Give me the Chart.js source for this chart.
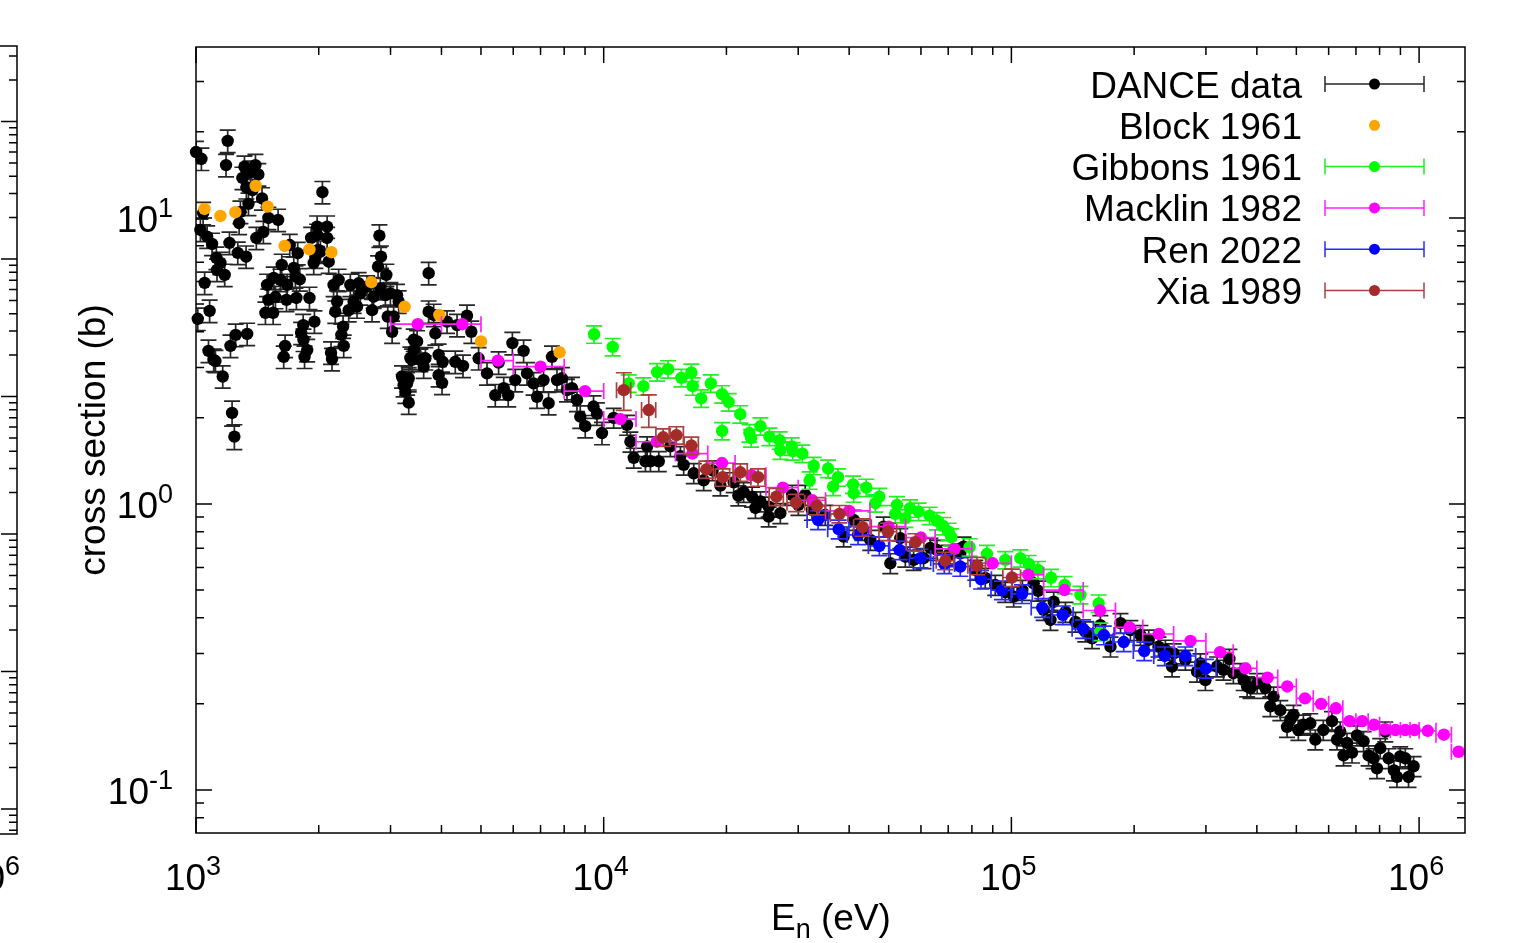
<!DOCTYPE html>
<html><head><meta charset="utf-8">
<script src="https://cdn.jsdelivr.net/npm/chart.js@4.4.1/dist/chart.umd.min.js"></script>
<style>html,body{margin:0;padding:0;background:#fff}canvas{display:block}</style>
</head><body>
<canvas id="c" width="1515" height="943"></canvas>
<script>
// ---------------- DATA ----------------
// DANCE data: [E (eV), cross section (b), relative error %]
const danceData = [
[1000,17.0,9],[1010,4.44,9],[1025,9.08,9],[1031,16.1,9],[1041,10.4,9],[1050,5.93,9],[1065,8.60,9],[1073,3.43,9],[1080,4.73,9],[1095,8.11,9],[1105,3.19,9],[1116,3.16,9],[1122,7.25,9],[1126,6.58,9],[1148,6.96,9],[1163,2.79,9],[1176,6.32,9],[1185,15.3,9],[1196,18.6,9],[1208,8.18,9],[1215,3.57,9],[1226,2.08,10],[1242,1.72,10],[1251,3.90,9],[1266,7.55,9],[1276,9.60,9],[1285,10.5,9],[1300,13.8,9],[1315,15.1,9],[1327,7.32,9],[1329,12.8,9],[1335,3.93,9],[1345,11.2,9],[1360,14.5,9],[1375,12.5,9],[1399,15.3,9],[1406,8.51,9],[1422,14.2,9],[1452,11.7,9],[1463,8.93,9],[1480,4.66,9],[1494,5.83,9],[1505,10.0,9],[1505,5.17,9],[1546,4.66,9],[1551,6.17,9],[1566,5.29,9],[1590,9.84,9],[1611,6.07,9],[1623,6.85,9],[1641,3.27,9],[1654,3.57,9],[1667,5.17,9],[1673,5.83,9],[1698,8.04,9],[1737,6.69,9],[1753,6.24,9],[1763,5.25,9],[1776,7.53,9],[1797,6.10,9],
[1811,3.96,9],[1832,4.22,9],[1835,3.75,9],[1846,3.27,9],[1874,3.45,9],[1898,5.25,9],[1916,8.51,9],[1944,6.96,9],[1952,4.34,9],[1962,7.32,9],[1982,9.32,9],[1982,8.72,9],[1993,7.73,9],[2019,7.62,9],[2042,12.3,9],[2097,9.32,9],[2097,8.51,9],[2116,7.03,9],[2144,3.38,9],[2156,3.21,9],[2175,5.83,9],[2196,4.70,9],[2218,5.10,9],[2238,6.07,9],[2273,3.90,9],[2295,4.17,9],[2303,3.57,9],[2369,4.76,9],[2391,5.83,9],[2436,5.10,9],[2483,4.90,9],[2506,5.91,9],[2530,5.45,9],[2628,5.75,9],[2703,4.76,9],[2727,5.31,9],[2796,6.76,9],[2817,8.67,9],[2832,5.68,9],[2843,7.32,9],
[2914,5.37,9],[2930,6.32,9],[2953,4.52,9],[2998,5.45,9],[3027,4.00,9],[3054,4.52,9],[3112,5.37,9],[3141,5.10,9],[3201,2.79,9],[3230,2.60,9],[3262,2.47,9],[3294,2.64,9],[3325,2.75,9],[3325,2.26,9],[3356,3.24,9],[3388,3.19,9],[3420,3.75,9],[3420,3.45,9],[3486,3.70,9],[3551,3.19,9],[3618,3.02,9],[3653,3.23,9],[3721,6.41,9],[3721,4.70,9],[3828,4.58,9],[3865,3.95,9],[3937,3.32,9],[3937,2.82,9],[4013,2.65,9],[4027,3.14,9],[4128,4.34,9],[4325,3.14,9],[4368,4.22,9],[4518,3.04,9],[4621,4.55,9],[4735,4.00,9],[4934,3.23,9],
[5174,2.86,9],[5421,2.40,9],[5524,3.12,9],[5686,2.54,9],[5832,2.40,9],[5970,3.65,9],[6069,2.71,9],[6361,3.43,9],[6485,2.86,9],[6729,2.64,9],[6862,2.37,9],[7120,2.71,9],[7325,2.25,9],[7467,3.27,9],[7681,2.71,9],[7900,2.75,9],[8127,2.50,9],[8360,2.54,9],[8599,2.31,9],[8760,2.02,9],[9010,1.87,9],[9441,2.19,9],[9626,2.07,9],[9905,1.77,9],
[10580,2.00,8],[11410,1.89,8],[11630,1.65,8],[11850,1.45,8],[12660,1.41,8],[12780,1.59,8],[13020,1.41,8],[13650,1.41,8],[14570,1.59,8],[15420,1.47,8],[15710,1.37,8],[16630,1.28,8],[17590,1.21,8],[18490,1.31,8],[19330,1.16,8],[20840,1.19,8],[21390,1.07,8],[22040,1.10,8],[23120,1.06,8],[23560,0.968,8],[24240,1.02,8],[25390,0.978,8],[25390,0.903,8],[27120,0.928,8],[28980,1.075,8],[30030,0.992,8],[31200,1.075,8],[32420,0.953,8],[34950,0.915,8],[38770,0.769,8],[41030,0.879,8],[43090,0.811,8],[45070,0.748,8],[48590,0.833,8],[50470,0.620,8],[53400,0.759,8],[54930,0.654,8],[57560,0.637,8],[60900,0.646,8],[63260,0.702,8],[65700,0.690,8],[70140,0.663,8],[74930,0.672,8],[76330,0.709,8],[81550,0.588,8],[86270,0.551,8],[91290,0.521,8],[96600,0.492,8],
[101300,0.474,8],[106400,0.500,8],[113400,0.528,8],[116300,0.497,8],[120000,0.426,8],[124700,0.393,8],[127000,0.455,8],[135700,0.419,8],[143600,0.387,8],[151800,0.358,8],[157700,0.339,8],[165300,0.377,8],[175000,0.317,8],[185200,0.383,8],[195800,0.362,8],[207200,0.348,8],[217200,0.335,8],[229500,0.317,8],[238600,0.309,8],[247800,0.270,8],[250100,0.300,8],[267100,0.285,8],[285300,0.259,8],[290800,0.277,8],[299100,0.242,8],[319500,0.270,8],[331300,0.263,8],[342600,0.287,8],[350300,0.256,8],[364400,0.256,8],[371400,0.242,8],[378600,0.230,8],[386000,0.227,8],[400700,0.236,8],[419700,0.227,8],[431700,0.196,8],[439600,0.212,8],[456700,0.190,8],[474300,0.166,8],[483100,0.176,8],[491900,0.183,8],[505700,0.162,8],[520200,0.169,8],[540900,0.171,8],[556500,0.150,8],[582200,0.162,8],[611400,0.174,8],[629000,0.150,8],[640600,0.160,8],[652600,0.132,8],[665400,0.146,8],[684600,0.135,8],[704100,0.155,8],[730900,0.148,8],[751900,0.132,8],[773300,0.129,8],[788300,0.119,8],[803000,0.140,8],[826100,0.160,8],[841900,0.129,8],[867600,0.117,8],[882500,0.111,8],[898800,0.131,8],[924800,0.129,8],[942100,0.111,8],[969300,0.121,8]
];
// Block 1961: [E, xs]
const blockData = [[1049,10.75],[1148,10.16],[1249,10.47],[1401,12.94],[1499,10.95],[1650,7.98],[1898,7.77],[2148,7.59],[2692,5.96],[3248,4.89],[3952,4.58],[5001,3.70],[7795,3.39]];
// Gibbons 1961: [E, xs, rel. error %]
const gibbonsData = [[9470,3.92,7],[10520,3.54,7],[11520,2.64,7],[12510,2.58,7],[13520,2.89,7],[14390,2.96,7],[15510,2.76,7],[16410,2.88,7],[16530,2.58,7],[17340,2.34,7],[18310,2.64,7],[19520,2.42,7],[19520,1.80,7],[20260,2.27,7],[21630,2.06,7],[22770,1.77,7],[22990,1.70,7],[24240,1.87,7],[25490,1.72,7],[27010,1.67,7],[27120,1.54,7],[28910,1.59,7],[29080,1.53,7],[30710,1.50,7],[32000,1.21,7],[32740,1.36,7],[35510,1.33,7],[36530,1.15,7],[37570,1.24,7],[40890,1.17,7],[41030,1.09,7],[44060,1.14,7],[46370,1.006,7],[47430,1.06,7],[51910,0.923,7],[52410,0.992,7],[54930,0.891,7],[56410,0.966,7],[59210,0.940,7],[63010,0.910,7],[65700,0.872,7],[67950,0.838,7],[70140,0.800,7],[71200,0.765,7],[78960,0.706,7],[87110,0.669,7],[96600,0.637,7],[105200,0.646,7],[110300,0.617,7],[116200,0.588,7],[125100,0.552,7],[135100,0.521,7],[147700,0.481,7],[163700,0.449,7],[165300,0.358,7]];
// Macklin 1982: [E, xs, half bin width dE]
const macklinData = [[3500,4.25,500],[4500,4.25,500],[5500,3.17,500],[7000,3.02,1000],[9000,2.48,1000],[11000,1.98,1000],[13500,1.65,1500],[16500,1.50,1500],[19500,1.39,1500],[23000,1.26,2000],[27500,1.14,2500],[32500,1.03,2500],[40000,0.945,5000],[50000,0.833,5000],[60000,0.763,5000],[72500,0.696,7500],[90000,0.620,10000],[110000,0.566,10000],[135000,0.500,15000],[165000,0.424,15000],[195000,0.370,15000],[230000,0.351,20000],[275000,0.332,25000],[325000,0.303,25000],[375000,0.266,25000],[425000,0.247,25000],[475000,0.230,25000],[525000,0.209,25000],[575000,0.200,25000],[625000,0.193,25000],[675000,0.174,25000],[725000,0.174,25000],[775000,0.169,25000],[825000,0.163,25000],[875000,0.162,25000],[925000,0.162,25000],[975000,0.162,25000],[1050000,0.161,50000],[1150000,0.156,50000],[1250000,0.136,50000]];
// Ren 2022: [E, xs, dE %, dxs %]
const renData = [[33560,0.879,6,7.5],[37700,0.816,6,7.5],[42060,0.779,6,7.5],[47430,0.713,6,7.5],[53190,0.690,6,7.5],[59820,0.646,6,7.5],[68460,0.617,6,7.5],[74930,0.604,6,7.5],[84240,0.545,6,7.5],[94800,0.500,6,7.5],[106200,0.485,6,7.5],[119000,0.434,6,7.5],[133700,0.409,6,7.5],[149900,0.366,6,7.5],[168500,0.348,6,7.5],[188600,0.329,6,7.5],[211800,0.306,6,7.5],[237700,0.294,6,7.5],[267100,0.294,6,7.5],[299900,0.266,6,7.5]];
// Xia 1989: [E, xs, dE %, dxs %]
const xiaData = [[11200,2.50,4,15],[12900,2.13,4,13],[13990,1.71,4,7],[15080,1.74,4,7],[16410,1.60,4,7],[17860,1.32,4,7],[19580,1.24,4,7],[21630,1.29,4,7],[23910,1.24,4,7],[26520,1.06,4,7],[29640,1.01,5,7],[33330,0.984,5,7],[37860,0.923,5,7],[43170,0.829,5,7],[49820,0.800,5,7],[58110,0.735,5,7],[68850,0.633,5,7],[82340,0.608,5,7],[100300,0.553,5,7]];

const xTickExps = [3, 4, 5, 6];
const yTickExps = [1, 0, -1];
const seriesLabels = ['DANCE data','Block 1961','Gibbons 1961','Macklin 1982','Ren 2022','Xia 1989'];
const xTitle = ['E','n',' (eV)'];
const yTitle = 'cross section (b)';

// ---------------- STYLE ----------------
const FONT = '"Liberation Sans", Arial, sans-serif';
const FS = 37, FSS = 27;
const X_MIN = 1000, X_MAX = 1.296e6, Y_MIN = 0.0707, Y_MAX = 39.6;
const styles = [
  {color:'#000000', bar:'#262626', kind:'y', order:6},
  {color:'#ffa500', bar:null, kind:'none', order:5},
  {color:'#00ff00', bar:'#22ee22', kind:'y', order:4},
  {color:'#ff00ff', bar:'#ff22ff', kind:'x', order:3},
  {color:'#0000ff', bar:'#2a2aff', kind:'xy', order:2},
  {color:'#a52a2a', bar:'#ac4040', kind:'xy', order:1}
];
const allData = [danceData, blockData, gibbonsData, macklinData, renData, xiaData];
const CAP = 8;

function errSegs(kind, r, xs, ys){
  const segs = [];
  const px = xs.getPixelForValue(r[0]), py = ys.getPixelForValue(r[1]);
  if (kind === 'y' || kind === 'xy') {
    const pct = kind === 'y' ? r[2] : r[3];
    const d = r[1]*pct/100;
    const y1 = ys.getPixelForValue(r[1]-d), y2 = ys.getPixelForValue(r[1]+d);
    segs.push([px,y1,px,y2],[px-CAP,y1,px+CAP,y1],[px-CAP,y2,px+CAP,y2]);
  }
  if (kind === 'x' || kind === 'xy') {
    const dE = kind === 'x' ? r[2] : r[0]*r[2]/100;
    const x1 = xs.getPixelForValue(r[0]-dE), x2 = xs.getPixelForValue(r[0]+dE);
    segs.push([x1,py,x2,py],[x1,py-CAP,x1,py+CAP],[x2,py-CAP,x2,py+CAP]);
  }
  return segs;
}

const errorBarPlugin = {
  id:'errbars',
  beforeDatasetDraw(chart, args){
    const ds = chart.data.datasets[args.index];
    if (!ds.barColor) return;
    const ctx = chart.ctx, a = chart.chartArea;
    ctx.save();
    ctx.beginPath(); ctx.rect(a.left, a.top, a.right-a.left, a.bottom-a.top); ctx.clip();
    ctx.strokeStyle = ds.barColor; ctx.lineWidth = 1.7;
    ctx.beginPath();
    ds.raw.forEach(r => errSegs(ds.kind, r, chart.scales.x, chart.scales.y).forEach(s => {
      ctx.moveTo(s[0],s[1]); ctx.lineTo(s[2],s[3]);
    }));
    ctx.stroke();
    ctx.restore();
  }
};

function powLabel(ctx, exp, x, y, align){
  ctx.font = FS+'px '+FONT;
  const w1 = ctx.measureText('10').width;
  ctx.font = FSS+'px '+FONT;
  const w2 = ctx.measureText(String(exp)).width;
  const w = w1 + w2;
  let x0 = align === 'right' ? x - w : x - w/2;
  ctx.textAlign = 'left'; ctx.textBaseline = 'alphabetic';
  ctx.font = FS+'px '+FONT; ctx.fillText('10', x0, y);
  ctx.font = FSS+'px '+FONT; ctx.fillText(String(exp), x0 + w1, y - 15);
}

const framePlugin = {
  id:'frame',
  afterDraw(chart){
    const ctx = chart.ctx, a = chart.chartArea, xs = chart.scales.x, ys = chart.scales.y;
    ctx.save();
    ctx.strokeStyle = '#000'; ctx.fillStyle = '#000'; ctx.lineWidth = 1.5;
    ctx.strokeRect(a.left, a.top, a.right-a.left, a.bottom-a.top);
    ctx.beginPath();
    for (let e = 3; e <= 6; e++) {
      for (let m = 1; m <= 9; m++) {
        const v = m*Math.pow(10,e);
        if (v < X_MIN || v > X_MAX) continue;
        const p = xs.getPixelForValue(v), L = m === 1 ? 16 : 8;
        ctx.moveTo(p, a.bottom); ctx.lineTo(p, a.bottom - L);
        ctx.moveTo(p, a.top); ctx.lineTo(p, a.top + L);
      }
    }
    for (let e = -2; e <= 1; e++) {
      for (let m = 1; m <= 9; m++) {
        const v = m*Math.pow(10,e);
        if (v < Y_MIN || v > Y_MAX) continue;
        const p = ys.getPixelForValue(v), L = m === 1 ? 16 : 8;
        ctx.moveTo(a.left, p); ctx.lineTo(a.left + L, p);
        ctx.moveTo(a.right, p); ctx.lineTo(a.right - L, p);
      }
    }
    ctx.stroke();
    xTickExps.forEach(e => powLabel(ctx, e, xs.getPixelForValue(Math.pow(10,e)) - 3, 890, 'center'));
    yTickExps.forEach(e => powLabel(ctx, e, 173, ys.getPixelForValue(Math.pow(10,e)) + 14, 'right'));
    ctx.textBaseline = 'alphabetic';
    ctx.font = FS+'px '+FONT;
    const wE = ctx.measureText(xTitle[0]).width, wR = ctx.measureText(xTitle[2]).width;
    ctx.font = FSS+'px '+FONT;
    const wn = ctx.measureText(xTitle[1]).width;
    let x0 = 831 - (wE+wn+wR)/2;
    ctx.textAlign = 'left';
    ctx.font = FS+'px '+FONT; ctx.fillText(xTitle[0], x0, 930);
    ctx.font = FSS+'px '+FONT; ctx.fillText(xTitle[1], x0+wE, 938);
    ctx.font = FS+'px '+FONT; ctx.fillText(xTitle[2], x0+wE+wn, 930);
    ctx.save();
    ctx.translate(105, 440); ctx.rotate(-Math.PI/2);
    ctx.textAlign = 'center'; ctx.font = FS+'px '+FONT;
    ctx.fillText(yTitle, 0, 0);
    ctx.restore();
    seriesLabels.forEach((lab, i) => {
      const y = 84 + 41.3*i, st = styles[i];
      ctx.font = FS+'px '+FONT; ctx.textAlign = 'right'; ctx.fillStyle = '#000';
      ctx.fillText(lab, 1302, y + 13.5);
      if (st.bar) {
        ctx.strokeStyle = st.bar; ctx.lineWidth = 1.5;
        ctx.beginPath();
        ctx.moveTo(1325, y); ctx.lineTo(1424, y);
        ctx.moveTo(1325, y-8); ctx.lineTo(1325, y+8);
        ctx.moveTo(1424, y-8); ctx.lineTo(1424, y+8);
        ctx.stroke();
      }
      ctx.fillStyle = st.color;
      ctx.beginPath(); ctx.arc(1374.5, y, 5.5, 0, Math.PI*2); ctx.fill();
    });
    ctx.strokeStyle = '#000'; ctx.fillStyle = '#000'; ctx.lineWidth = 1.5;
    ctx.beginPath();
    ctx.moveTo(-2, 46); ctx.lineTo(17, 46); ctx.lineTo(17, 834); ctx.lineTo(-2, 834);
    for (let k = -1; k <= 6; k++) {
      const yM = 121.5 + 137.5*k;
      for (let m = 1; m <= 9; m++) {
        const yy = yM - 137.5*Math.log10(m);
        if (yy < 47 || yy > 833) continue;
        const L = m === 1 ? 16 : 8;
        ctx.moveTo(17, yy); ctx.lineTo(17 - L, yy);
      }
    }
    ctx.stroke();
    powLabel(ctx, 6, 20, 890, 'right');
    ctx.restore();
  }
};

Chart.defaults.font.family = FONT;
new Chart(document.getElementById('c').getContext('2d'), {
  type:'scatter',
  data:{ datasets: allData.map((d, i) => ({
    label: seriesLabels[i],
    data: d.map(r => ({x:r[0], y:r[1]})),
    raw: d, kind: styles[i].kind, barColor: styles[i].bar,
    order: styles[i].order,
    pointRadius: 6.2, pointHoverRadius: 6.2, pointBorderWidth: 0,
    pointBackgroundColor: styles[i].color, pointBorderColor: styles[i].color,
    backgroundColor: styles[i].color, borderColor: styles[i].color,
    showLine: false, clip: false
  }))},
  options:{
    responsive:false, animation:false, events:[], devicePixelRatio:1,
    layout:{padding:{left:196, top:47, right:50, bottom:110}},
    plugins:{legend:{display:false}, tooltip:{enabled:false}},
    scales:{
      x:{type:'logarithmic', min:X_MIN, max:X_MAX, display:false},
      y:{type:'logarithmic', min:Y_MIN, max:Y_MAX, display:false}
    }
  },
  plugins:[errorBarPlugin, framePlugin]
});
</script>
</body></html>
